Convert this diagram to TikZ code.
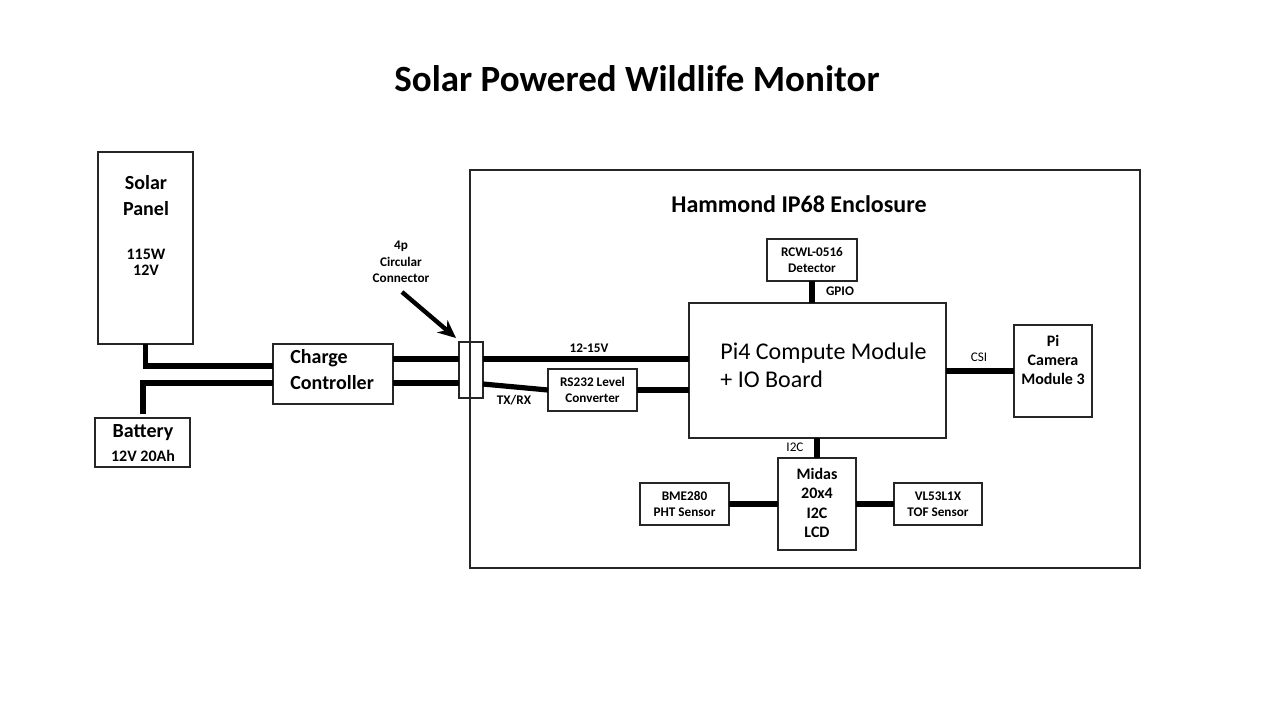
\documentclass[tikz,border=0pt]{standalone}
\usepackage{fontspec}
\setmainfont{Carlito}
\usetikzlibrary{fit,calc,arrows.meta}
\tikzset{
  box/.style={draw=black!85, line width=0.6pt, inner sep=0pt, outer sep=0pt, fill=none},
  wire/.style={line width=2.6pt, line cap=butt},
  tA/.style={font=\bfseries\fontsize{10}{13}\selectfont, align=center, inner sep=0pt},
  tL/.style={font=\bfseries\fontsize{10}{13}\selectfont, align=left, inner sep=0pt, anchor=west},
  tB/.style={font=\bfseries\fontsize{8}{8}\selectfont, align=center, inner sep=0pt},
  tC/.style={font=\bfseries\fontsize{8}{9.6}\selectfont, align=center, inner sep=0pt},
  tS/.style={font=\bfseries\fontsize{6.6}{8.2}\selectfont, align=center, inner sep=0pt},
  tR/.style={font=\fontsize{6.6}{8.2}\selectfont, align=center, inner sep=0pt},
  tP/.style={font=\fontsize{12}{14}\selectfont, align=left, inner sep=0pt, anchor=west},
}
\begin{document}
\begin{tikzpicture}[x=0.5pt, y=-0.5pt]
\useasboundingbox (0,0) rectangle (1280,720);
% title
\node[font=\bfseries\fontsize{18.5}{20}\selectfont, inner sep=0pt] (title) at (637,79) {Solar Powered Wildlife Monitor};
% boxes
\node[box, fit={(98,152) (193,344)}] (solar) {};
\node[box, fit={(95,418) (190,467)}] (batt) {};
\node[box, fit={(273,344) (393,404)}] (cc) {};
\node[box, fit={(470,170) (1140,568)}] (encl) {};
\node[box, fit={(459,342) (483,398)}] (conn) {};
\node[box, fit={(548,369) (637,411)}] (rs) {};
\node[box, fit={(689,303) (946,438)}] (pi) {};
\node[box, fit={(767,239) (857,281)}] (rcwl) {};
\node[box, fit={(1014,325) (1092,417)}] (cam) {};
\node[box, fit={(778,458) (856,550)}] (lcd) {};
\node[box, fit={(640,483) (729,525)}] (bme) {};
\node[box, fit={(894,483) (982,525)}] (vl) {};
% texts
\node[tA] (solarT) at (146,196) {Solar\\Panel};
\node[tB] (solarS) at (146,262) {115W\\12V};
\node[tA] (battT) at (143,433) {Battery};
\node[tB] (battS) at (143,456) {12V 20Ah};
\node[tL] (ccT) at (290,370) {Charge\\Controller};
\node[font=\bfseries\fontsize{12}{14}\selectfont, inner sep=0pt] (enclT) at (799,204) {Hammond IP68 Enclosure};
\node[tS] (connT) at (401,262) {4p\\Circular\\Connector};
\node[tS] (rsT) at (592.5,390) {RS232 Level\\Converter};
\node[tP] (piT) at (720,365) {Pi4 Compute Module\\+ IO Board};
\node[tS] (rcwlT) at (812,260) {RCWL-0516\\Detector};
\node[tC] (camT) at (1053,360) {Pi\\Camera\\Module 3};
\node[tC] (lcdT) at (817,503) {Midas\\20x4\\I2C\\LCD};
\node[tS] (bmeT) at (684.5,504) {BME280\\PHT Sensor};
\node[tS] (vlT) at (938,504) {VL53L1X\\TOF Sensor};
% wire labels
\node[tS] (l1215) at (589,348) {12-15V};
\node[tS] (ltx) at (514,400) {TX/RX};
\node[tS] (lgpio) at (840,291) {GPIO};
\node[tR] (lcsi) at (979,357) {CSI};
\node[tR] (li2c) at (795,447) {I2C};
% wires
\draw[wire] (solar.south) |- ($(cc.north west)+(0,22)$);
\draw[wire] ($(batt.north)+(0.5,-4)$) |- ($(cc.north west)+(0,39)$);
\draw[wire] ($(cc.north east)+(0,15)$) -- ($(conn.north west)+(0,17)$);
\draw[wire] ($(cc.north east)+(0,39)$) -- ($(conn.north west)+(0,41)$);
\draw[wire] ($(conn.north east)+(0,17)$) -- ($(pi.north west)+(0,56)$);
\draw[wire] ($(conn.north east)+(0,42)$) -- ($(rs.north west)+(0,21)$);
\draw[wire] ($(rs.north east)+(0,21)$) -- ($(pi.north west)+(0,87)$);
\draw[wire] (rcwl.south) -- ($(pi.north west)+(123,0)$);
\draw[wire] ($(pi.north east)+(0,68)$) -- ($(cam.north west)+(0,46)$);
\draw[wire] ($(pi.south west)+(128,0)$) -- ($(lcd.north west)+(39,0)$);
\draw[wire] (bme.east) -- ($(lcd.north west)+(0,46)$);
\draw[wire] ($(lcd.north east)+(0,46)$) -- (vl.west);
% arrow
\coordinate (arrS) at (402,292);
\draw[line width=2.2pt, -{Stealth[length=9pt,width=8pt]}] (arrS) -- ($(conn.north west)+(-3,-4)$);
\end{tikzpicture}
\end{document}
